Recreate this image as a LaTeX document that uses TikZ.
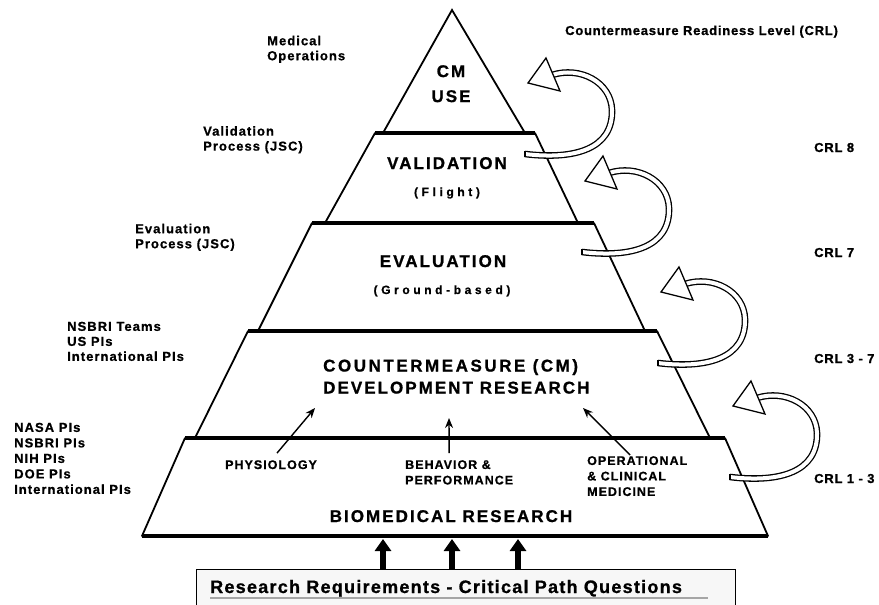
\documentclass[tikz,border=0pt]{standalone}
\usepackage{fontspec}
\setmainfont{Liberation Sans}
\usetikzlibrary{arrows.meta}

\tikzset{
    crlarrow/.pic={
        \draw[line width=1.3pt, double=white, double distance=4pt]
            (0,0) .. controls (50,6) and (88,-5) .. (87,-44)
            .. controls (86,-72) and (55,-88) .. (27,-79);
        \draw[line width=1.3pt] (0,-3.3) -- (0,3.3);
        \filldraw[fill=white, line width=1.3pt] (3,-71) -- (21,-96) -- (35,-63) -- cycle;
    }
}

\begin{document}
\begin{tikzpicture}[x=1pt, y=-1pt,
    tierside/.style={line width=1.8pt, line cap=round},
    tiertop/.style={line width=3.5pt},
    sidelbl/.style={font=\bfseries\fontsize{13}{15}\selectfont\addfontfeatures{LetterSpace=8, FakeBold=0.8},
        align=left, anchor=north west, inner sep=0pt},
    crllbl/.style={font=\bfseries\fontsize{13}{15}\selectfont\addfontfeatures{LetterSpace=6, FakeBold=0.8},
        anchor=base west, inner sep=0pt},
    tierlbl/.style={font=\bfseries\fontsize{17}{22}\selectfont\addfontfeatures{LetterSpace=12, FakeBold=1},
        inner sep=0pt},
    sublbl/.style={font=\bfseries\fontsize{12}{14}\selectfont\addfontfeatures{LetterSpace=30, FakeBold=0.8},
        anchor=base, inner sep=0pt},
    arealbl/.style={font=\bfseries\fontsize{12.5}{15.5}\selectfont\addfontfeatures{LetterSpace=8, FakeBold=0.8},
        align=left, inner sep=0pt},
    thinarrow/.style={line width=1.4pt, -{Stealth[length=10pt, width=8pt]}},
    bigarrow/.style={line width=6pt, -{Triangle[length=12pt, width=16pt]}},
    reqbox/.style={draw, line width=1.2pt, fill=gray!6, minimum width=539pt,
        minimum height=60pt, anchor=north west, inner sep=0pt}
]
\useasboundingbox (0,0) rectangle (879,605);
\clip (0,0) rectangle (879,605);

% pyramid
\draw[tierside] (383,133) -- (452,10) -- (525,133);
\foreach \yt/\yb/\lt/\lb/\rt/\rb in {133/223/375/325/535/578, 223/331/312/258/594/645,
        331/438/248/195/657/710, 438/536/185/142/725/768}
{
    \draw[tiertop] (\lt,\yt) -- (\rt,\yt);
    \draw[tierside] (\lt,\yt) -- (\lb,\yb) (\rt,\yt) -- (\rb,\yb);
}
\draw[tiertop] (142,536) -- (768,536);

% tier labels
\node[tierlbl, align=center, anchor=north] (cmuse) at (451,65) {CM\\[3pt]USE};
\node[tierlbl, anchor=base] (valid) at (447,169) {VALIDATION};
\node[sublbl] (flight) at (447,196) {(Flight)};
\node[tierlbl, anchor=base] (eval) at (443,267) {EVALUATION};
\node[sublbl] (ground) at (442,294) {(Ground-based)};
\node[tierlbl, align=left, anchor=north west] (cmdev) at (323,359)
    {{\addfontfeatures{LetterSpace=15}COUNTERMEASURE (CM)}\\DEVELOPMENT RESEARCH};
\node[tierlbl, anchor=base] (biomed) at (451,522) {BIOMEDICAL RESEARCH};

% research areas
\node[arealbl, anchor=base west] (phys) at (225,469) {PHYSIOLOGY};
\node[arealbl, anchor=north west] (behav) at (405,460) {BEHAVIOR \&\\PERFORMANCE};
\node[arealbl, anchor=north west] (oper) at (587,456) {OPERATIONAL\\\& CLINICAL\\MEDICINE};
\coordinate (phys-tip) at (315,408);
\coordinate (behav-tip) at (449,418);
\coordinate (oper-tip) at (583,408);
\draw[thinarrow] ([xshift=6pt, yshift=7pt]phys.north) -- (phys-tip);
\draw[thinarrow] ([xshift=-10pt, yshift=7pt]behav.north) -- (behav-tip);
\draw[thinarrow] ([xshift=-7pt, yshift=1pt]oper.north) -- (oper-tip);

% who does the work
\node[sidelbl] (medops) at (267,35.6) {Medical\\Operations};
\node[sidelbl] (valproc) at (203,126) {Validation\\Process (JSC)};
\node[sidelbl] (evalproc) at (135,223.6) {Evaluation\\Process (JSC)};
\node[sidelbl] (teams) at (67,321.6) {NSBRI Teams\\US PIs\\International PIs};
\node[sidelbl, font=\bfseries\fontsize{13}{15.5}\selectfont\addfontfeatures{LetterSpace=8, FakeBold=0.8}]
    (pis) at (14,422.6) {NASA PIs\\NSBRI PIs\\NIH PIs\\DOE PIs\\International PIs};

% readiness levels
\node[crllbl] (crl) at (565,35) {Countermeasure Readiness Level (CRL)};
\node[crllbl] (crl8) at (814,152) {CRL 8};
\node[crllbl] (crl7) at (814,257) {CRL 7};
\node[crllbl] (crl37) at (814,363) {CRL 3 - 7};
\node[crllbl] (crl13) at (814,483) {CRL 1 - 3};
\pic at (525,154) {crlarrow};
\pic at (582,252) {crlarrow};
\pic at (658,363) {crlarrow};
\pic at (730,477) {crlarrow};

% requirements
\node[reqbox] (req) at (196,569) {};
\node[font=\bfseries\fontsize{18}{20}\selectfont\addfontfeatures{LetterSpace=7, FakeBold=1},
    anchor=base west, inner sep=0pt] (reqtext) at (210,593)
    {Research Requirements - Critical Path Questions};
\draw[gray!70, line width=2pt] ([yshift=-5pt]reqtext.base west) -- ++(498,0);
\foreach \x [count=\i] in {383,452,518}
{
    \coordinate (up-\i) at (\x,539);
    \draw[bigarrow] (req.north -| up-\i) -- (up-\i);
}
\end{tikzpicture}
\end{document}
